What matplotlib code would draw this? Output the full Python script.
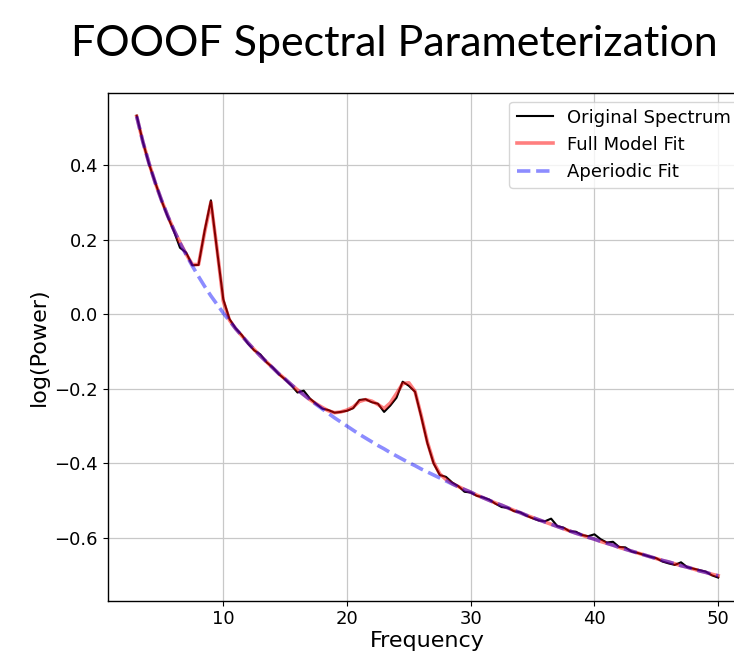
import matplotlib
matplotlib.use("Agg")
import matplotlib.pyplot as plt
import numpy as np

# frequency grid (0.5 Hz resolution, 3-50 Hz)
freqs = np.arange(3.0, 50.5, 0.5)

# original power spectrum, log10 power
spectrum = [
    0.532, 0.462, 0.402, 0.353, 0.305, 0.262, 0.223, 0.178, 0.165, 0.131,
    0.132, 0.225, 0.305, 0.170, 0.040, -0.013, -0.038, -0.056, -0.079, -0.097,
    -0.108, -0.129, -0.143, -0.161, -0.175, -0.191, -0.210, -0.205, -0.226, -0.240,
    -0.253, -0.257, -0.264, -0.262, -0.259, -0.252, -0.230, -0.228, -0.236, -0.240,
    -0.262, -0.245, -0.224, -0.181, -0.192, -0.208, -0.275, -0.346, -0.400, -0.431,
    -0.436, -0.451, -0.461, -0.476, -0.478, -0.487, -0.491, -0.497, -0.508, -0.517,
    -0.519, -0.528, -0.531, -0.540, -0.547, -0.553, -0.555, -0.548, -0.568, -0.572,
    -0.582, -0.583, -0.592, -0.595, -0.590, -0.603, -0.612, -0.610, -0.624, -0.625,
    -0.636, -0.640, -0.645, -0.650, -0.654, -0.663, -0.668, -0.672, -0.665, -0.678,
    -0.682, -0.686, -0.690, -0.700, -0.706,
]

# full model fit (aperiodic + peaks)
model_fit = [
    0.530, 0.462, 0.404, 0.352, 0.306, 0.264, 0.226, 0.192, 0.161, 0.133,
    0.133, 0.221, 0.300, 0.173, 0.035, -0.016, -0.039, -0.058, -0.077, -0.095,
    -0.112, -0.128, -0.144, -0.160, -0.174, -0.189, -0.203, -0.216, -0.229, -0.240,
    -0.250, -0.259, -0.264, -0.262, -0.257, -0.249, -0.234, -0.229, -0.233, -0.242,
    -0.253, -0.238, -0.213, -0.186, -0.184, -0.207, -0.272, -0.343, -0.397, -0.428,
    -0.443, -0.454, -0.462, -0.470, -0.477, -0.485, -0.492, -0.499, -0.506, -0.512,
    -0.519, -0.526, -0.532, -0.539, -0.545, -0.551, -0.557, -0.563, -0.569, -0.575,
    -0.581, -0.587, -0.592, -0.598, -0.603, -0.609, -0.614, -0.619, -0.625, -0.630,
    -0.635, -0.640, -0.645, -0.650, -0.655, -0.660, -0.664, -0.669, -0.674, -0.678,
    -0.683, -0.688, -0.692, -0.697, -0.701,
]

# aperiodic component only
aperiodic_fit = [
    0.530, 0.462, 0.404, 0.352, 0.306, 0.264, 0.226, 0.191, 0.159, 0.129,
    0.101, 0.074, 0.049, 0.026, 0.003, -0.018, -0.039, -0.058, -0.077, -0.095,
    -0.112, -0.128, -0.144, -0.160, -0.174, -0.189, -0.203, -0.216, -0.229, -0.242,
    -0.254, -0.266, -0.278, -0.289, -0.300, -0.311, -0.322, -0.332, -0.342, -0.352,
    -0.361, -0.371, -0.380, -0.389, -0.398, -0.406, -0.415, -0.423, -0.431, -0.439,
    -0.447, -0.455, -0.463, -0.470, -0.477, -0.485, -0.492, -0.499, -0.506, -0.512,
    -0.519, -0.526, -0.532, -0.539, -0.545, -0.551, -0.557, -0.563, -0.569, -0.575,
    -0.581, -0.587, -0.592, -0.598, -0.603, -0.609, -0.614, -0.619, -0.625, -0.630,
    -0.635, -0.640, -0.645, -0.650, -0.655, -0.660, -0.664, -0.669, -0.674, -0.678,
    -0.683, -0.688, -0.692, -0.697, -0.701,
]

fig = plt.figure(figsize=(7.34, 6.54), dpi=100)
# axes run slightly past the right edge, as in the cropped original
ax = fig.add_axes([0.1466, 0.0815, 0.8714, 0.777])

ax.plot(freqs, spectrum, color="black", linewidth=1.5, label="Original Spectrum")
ax.plot(freqs, model_fit, color="red", linewidth=2.6, alpha=0.5, label="Full Model Fit")
ax.plot(freqs, aperiodic_fit, color="blue", linewidth=2.6, alpha=0.45,
        linestyle="--", label="Aperiodic Fit")

ax.grid(True, color="#c8c8c8", linewidth=0.9)
ax.set_axisbelow(True)
ax.tick_params(labelsize=13)
ax.set_xticks([10, 20, 30, 40, 50])
ax.set_xlabel("Frequency", fontsize=16, labelpad=2)
ax.set_ylabel("log(Power)", fontsize=16)
for s in ax.spines.values():
    s.set_linewidth(1.0)

ax.legend(loc="upper right", fontsize=13, framealpha=0.8)

fig.text(0.537, 0.932, "FOOOF Spectral Parameterization",
         family="Lato", fontsize=31, ha="center", va="center")

fig.savefig("out.png", dpi=100)
